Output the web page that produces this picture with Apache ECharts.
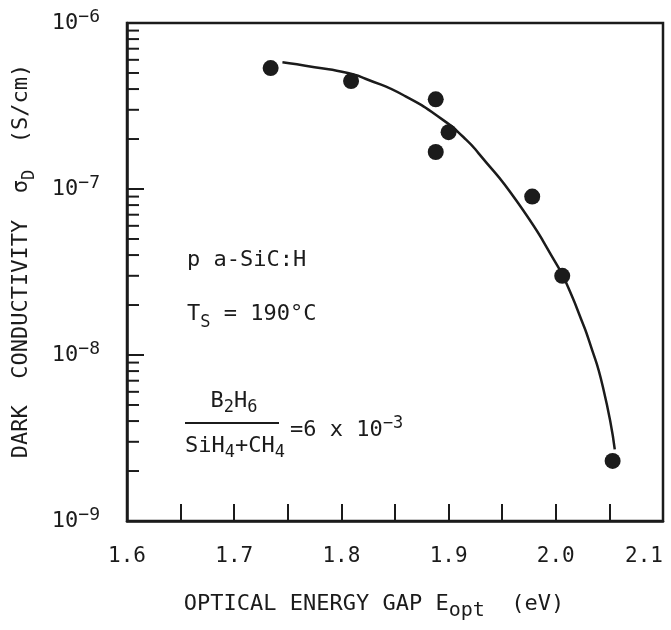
<!DOCTYPE html>
<html>
<head>
<meta charset="utf-8">
<script src="https://cdn.jsdelivr.net/npm/echarts@6/dist/echarts.min.js"></script>
<style>
html,body{margin:0;padding:0;background:#fff;}
#chart{width:671px;height:630px;}
</style>
</head>
<body>
<div id="chart"></div>
<script>
// ---- data ----
const energyGap = [1.734, 1.809, 1.888, 1.900, 1.888, 1.978, 2.006, 2.053];          // eV
const conductivity = [5.35e-7, 4.47e-7, 3.47e-7, 2.2e-7, 1.67e-7, 9.0e-8, 3.0e-8, 2.3e-9]; // S/cm

const fitGap = [1.745, 1.775, 1.806, 1.823, 1.858, 1.895, 1.914, 1.928, 1.965, 2.002, 2.011, 2.024, 2.031, 2.044, 2.055];
const fitSigma = [5.8e-7, 5.42e-7, 5.0e-7, 4.6e-7, 3.67e-7, 2.6e-7, 2.05e-7, 1.64e-7, 8.2e-8, 3.41e-8, 2.6e-8, 1.62e-8, 1.22e-8, 6.4e-9, 2.7e-9];

const xTickLabels = ['1.6', '1.7', '1.8', '1.9', '2.0', '2.1'];
const yDecades = [1e-9, 1e-8, 1e-7];
const yMinorMultipliers = [2, 3, 4, 5, 6, 7, 8, 9];

const FONT = '"DejaVu Sans Mono", "Liberation Mono", monospace';
const INK = '#1b1b1b';

const minorTickValues = [];
yDecades.forEach(d => yMinorMultipliers.forEach(m => minorTickValues.push([1.6, m * d])));

const chart = echarts.init(document.getElementById('chart'));

const mainStyle = { fontFamily: FONT, fontSize: 22, color: INK, lineHeight: 34 };
const subStyle = { fontFamily: FONT, fontSize: 17, color: INK, lineHeight: 12, verticalAlign: 'bottom' };

chart.setOption({
  backgroundColor: '#ffffff',
  animation: false,
  grid: {
    left: 127, right: 8, top: 23, bottom: 109,
    show: true, borderColor: INK, borderWidth: 2.5, backgroundColor: 'transparent'
  },
  xAxis: {
    type: 'value', min: 1.6, max: 2.1, interval: 0.05,
    name: '{m|OPTICAL ENERGY GAP E}{sub|opt}{m|  (eV)}',
    nameLocation: 'middle', nameGap: 66,
    nameTextStyle: {
      fontFamily: FONT, fontSize: 22, color: INK, padding: [0, 42, 0, 0],
      rich: { m: mainStyle, sub: Object.assign({}, subStyle, { fontSize: 20 }) }
    },
    axisLine: { lineStyle: { color: INK, width: 2.5 } },
    axisTick: { inside: true, length: 17, lineStyle: { color: INK, width: 2 } },
    splitLine: { show: false },
    axisLabel: {
      margin: 25, fontFamily: FONT, fontSize: 21, color: INK,
      alignMaxLabel: 'right',
      formatter: v => {
        const k = Math.round((v - 1.6) * 10);
        return Math.abs((v - 1.6) * 10 - k) < 1e-6 ? xTickLabels[k] : '';
      }
    }
  },
  yAxis: {
    type: 'log', logBase: 10, min: 1e-9, max: 1e-6,
    name: '{m|DARK  CONDUCTIVITY  σ}{sub|D}{m|  (S/cm)}',
    nameLocation: 'middle', nameRotate: 90, nameGap: 89,
    nameTextStyle: {
      fontFamily: FONT, fontSize: 22, color: INK, padding: [0, 0, 0, 22],
      rich: { m: mainStyle, sub: subStyle }
    },
    axisLine: { lineStyle: { color: INK, width: 2.5 } },
    axisTick: { inside: true, length: 17, lineStyle: { color: INK, width: 2 } },
    splitLine: { show: false },
    minorTick: { show: false },
    axisLabel: {
      margin: 27, fontFamily: FONT, color: INK,
      formatter: v => '{b|10}{s|−' + Math.round(-Math.log10(v)) + '}',
      rich: {
        b: { fontFamily: FONT, fontSize: 22, color: INK, lineHeight: 30 },
        s: { fontFamily: FONT, fontSize: 18, color: INK, lineHeight: 10, verticalAlign: 'top' }
      }
    }
  },
  series: [
    {
      type: 'custom',
      name: 'minor ticks',
      silent: true,
      data: minorTickValues,
      renderItem: (params, api) => {
        const p = api.coord([api.value(0), api.value(1)]);
        return {
          type: 'line',
          shape: { x1: p[0], y1: p[1], x2: p[0] + 12, y2: p[1] },
          style: { stroke: INK, lineWidth: 2 }
        };
      },
      z: 3
    },
    {
      type: 'line',
      name: 'fit',
      data: fitGap.map((x, i) => [x, fitSigma[i]]),
      smooth: 0.6,
      showSymbol: false,
      symbol: 'none',
      lineStyle: { color: INK, width: 2.5 },
      z: 2
    },
    {
      type: 'scatter',
      name: 'measured',
      data: energyGap.map((x, i) => [x, conductivity[i]]),
      symbol: 'circle',
      symbolSize: 16,
      itemStyle: { color: INK, opacity: 1 },
      z: 4
    }
  ],
  graphic: [
    {
      type: 'text', x: 187, y: 260,
      style: { text: 'p a-SiC:H', fontFamily: FONT, fontSize: 22, fill: INK, verticalAlign: 'middle' }
    },
    {
      type: 'text', x: 187, y: 314,
      style: {
        text: '{m|T}{sub|S}{m| = 190°C}', verticalAlign: 'middle', fill: INK,
        rich: {
          m: { fontFamily: FONT, fontSize: 22, fill: INK, lineHeight: 34 },
          sub: { fontFamily: FONT, fontSize: 17, fill: INK, lineHeight: 12, verticalAlign: 'bottom' }
        }
      }
    },
    {
      type: 'text', x: 234, y: 401,
      style: {
        text: '{m|B}{sub|2}{m|H}{sub|6}', align: 'center', verticalAlign: 'middle', fill: INK,
        rich: {
          m: { fontFamily: FONT, fontSize: 22, fill: INK, lineHeight: 30 },
          sub: { fontFamily: FONT, fontSize: 17, fill: INK, lineHeight: 12, verticalAlign: 'bottom' }
        }
      }
    },
    {
      type: 'line',
      shape: { x1: 185, y1: 423, x2: 279, y2: 423 },
      style: { stroke: INK, lineWidth: 2 }
    },
    {
      type: 'text', x: 185, y: 446,
      style: {
        text: '{m|SiH}{sub|4}{m|+CH}{sub|4}', verticalAlign: 'middle', fill: INK,
        rich: {
          m: { fontFamily: FONT, fontSize: 22, fill: INK, lineHeight: 30 },
          sub: { fontFamily: FONT, fontSize: 17, fill: INK, lineHeight: 12, verticalAlign: 'bottom' }
        }
      }
    },
    {
      type: 'text', x: 290, y: 430,
      style: {
        text: '{m|=6 x 10}{s|−3}', verticalAlign: 'middle', fill: INK,
        rich: {
          m: { fontFamily: FONT, fontSize: 22, fill: INK, lineHeight: 30 },
          s: { fontFamily: FONT, fontSize: 17, fill: INK, lineHeight: 10, verticalAlign: 'top' }
        }
      }
    }
  ]
});
</script>
</body>
</html>
